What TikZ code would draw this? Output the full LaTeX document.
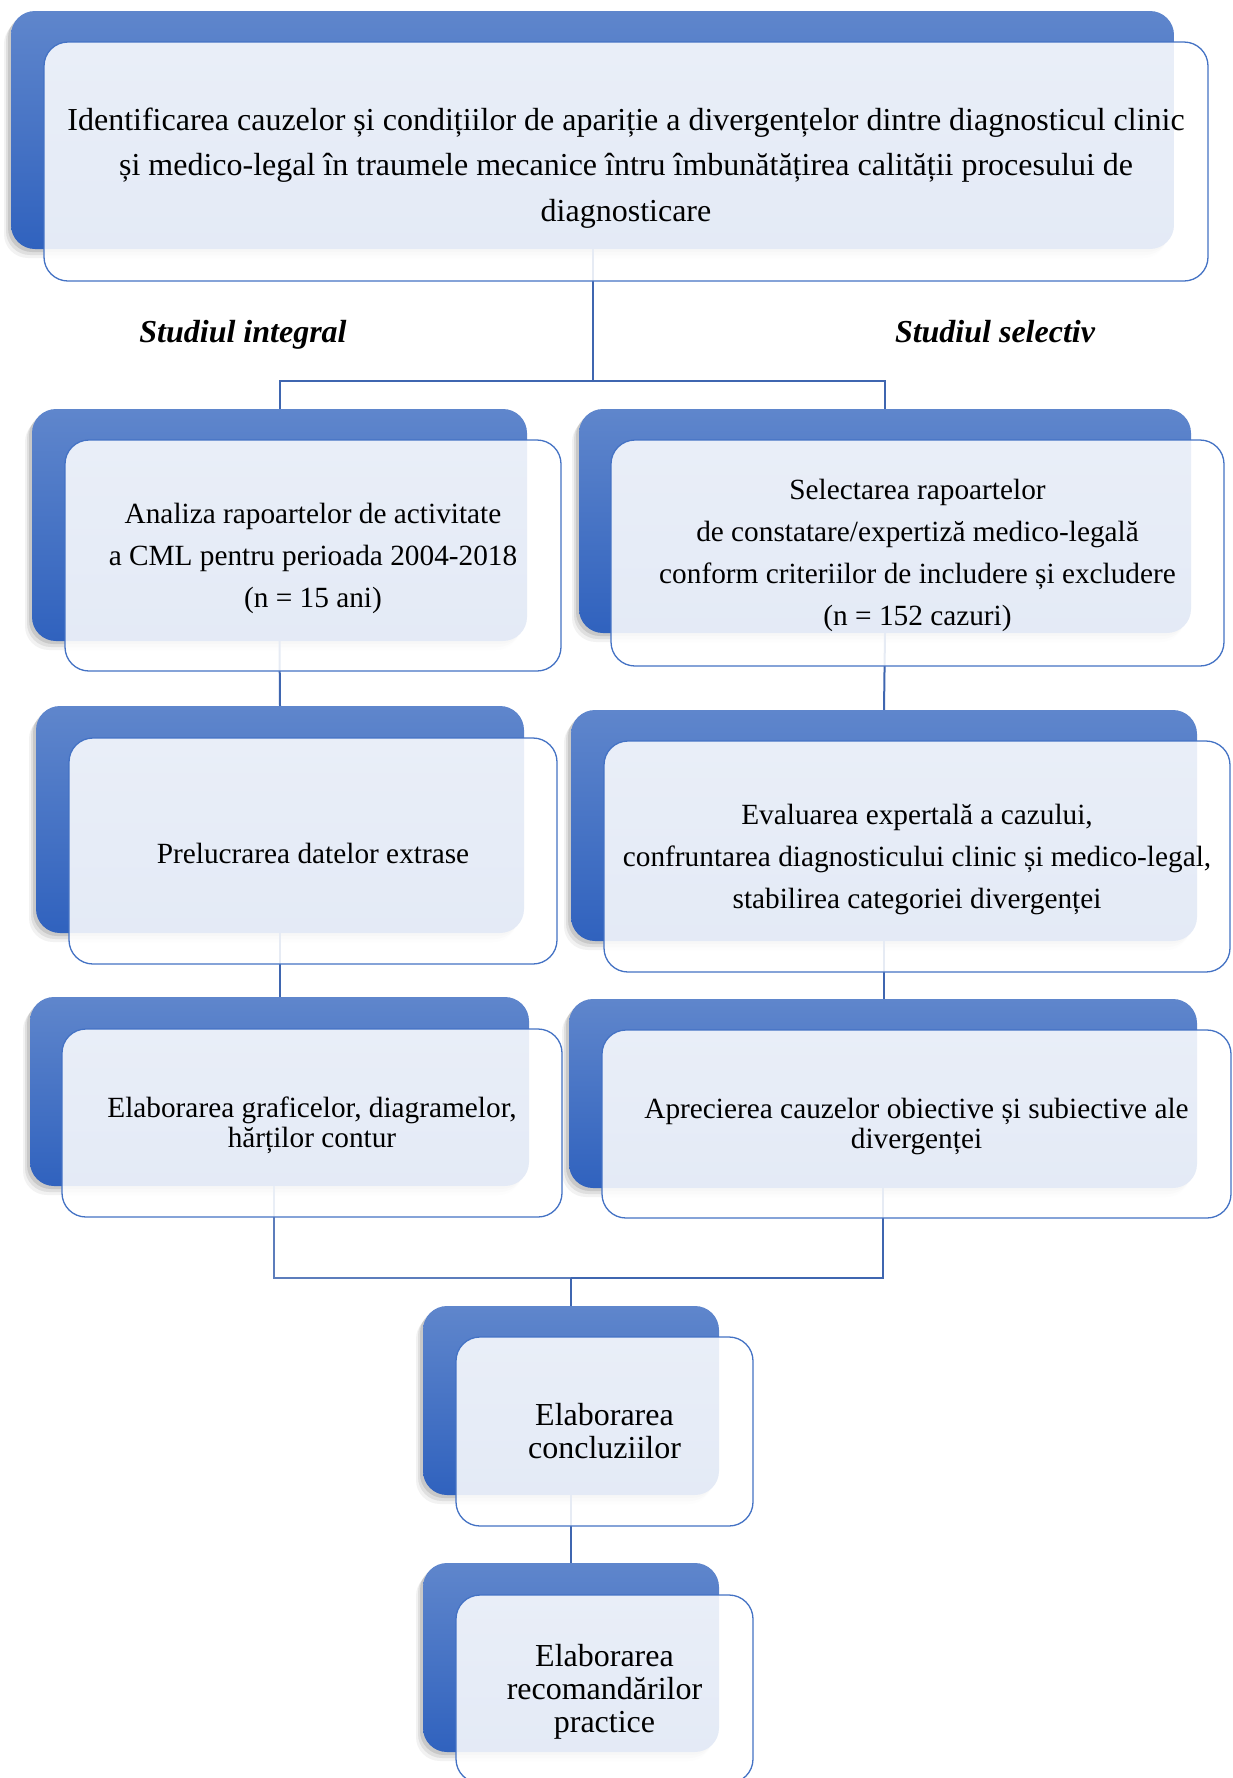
\documentclass[tikz,border=0pt]{standalone}
\usepackage{fontspec}
\setmainfont{Liberation Serif}
\usetikzlibrary{fit}
\definecolor{bluetop}{HTML}{5F86CC}
\definecolor{bluebot}{HTML}{3062BE}
\definecolor{edgeblue}{HTML}{4472C4}
\definecolor{connblue}{HTML}{3F66B0}
\begin{document}
\begin{tikzpicture}[x=1pt,y=-1pt,
  backbox/.style={rounded corners=24pt, inner sep=0pt, top color=bluetop, bottom color=bluebot, draw=none,
    preaction={fill=black, fill opacity=0.05, transform canvas={shift={(-7pt,-9pt)}}},
    preaction={fill=black, fill opacity=0.08, transform canvas={shift={(-5pt,-6pt)}}},
    preaction={fill=black, fill opacity=0.10, transform canvas={shift={(-3pt,-3pt)}}}},
  frontbox/.style={rounded corners=24pt, inner sep=0pt, fill=white, fill opacity=0.87, draw=edgeblue, line width=1.3pt},
  connline/.style={draw=connblue, line width=2pt},
  thinline/.style={draw=connblue!85, line width=1.2pt},
  txt/.style={align=center, inner sep=0pt, yshift=-2.5pt, font=\fontsize{29.3}{42}\selectfont},
  tighttxt/.style={align=center, inner sep=0pt, yshift=-2.5pt, font=\fontsize{29.3}{30}\selectfont},
  bigtxt/.style={align=center, inner sep=0pt, font=\fontsize{32}{33}\selectfont},
  titletxt/.style={align=center, inner sep=0pt, yshift=-6.5pt, font=\fontsize{32}{45.5}\selectfont},
  studylabel/.style={anchor=base, inner sep=0pt, font=\fontsize{32}{36}\selectfont\bfseries\itshape}]
\useasboundingbox (0,0) rectangle (1233,1778);
\clip (0,0) rectangle (1233,1778);
\fill[white] (0,0) rectangle (1233,1778);

% back boxes
\node[backbox, fit={(11,11) (1174,249)}] (tb) {};
\node[backbox, fit={(32,409) (527,641)}] (r1l) {};
\node[backbox, fit={(579,409) (1191,633)}] (r1r) {};
\node[backbox, fit={(36,706) (524,933)}] (r2l) {};
\node[backbox, fit={(571,710) (1197,941)}] (r2r) {};
\node[backbox, fit={(30,997) (529,1186)}] (r3l) {};
\node[backbox, fit={(569,999) (1197,1188)}] (r3r) {};
\node[backbox, fit={(423,1306) (719,1495)}] (b1) {};
\node[backbox, fit={(423,1563) (719,1752)}] (b2) {};

% connectors
\coordinate (split) at (592.5,381);
\coordinate (jl) at (274,1278);
\coordinate (jm) at (571,1278);
\draw[connline] (tb.south) -- (split);
\draw[connline] (split) -| (r1l.north);
\draw[connline] (split) -| (r1r.north);
\draw[connline] (r1l.south) -- (r2l.north);
\draw[connline] (r1r.south) -- (r2r.north);
\draw[connline] (r2l.south) -- (r3l.north -| r2l.south);
\draw[connline] (r2r.south) -- (r3r.north -| r2r.south);
\draw[thinline] (r3l.south -| jl) -- (jl) -- (jm);
\draw[connline] (r3r.south) |- (jm);
\draw[connline] (jm) -- (b1.north);
\draw[connline] (b1.south) -- (b2.north);

% front boxes
\node[frontbox, fit={(44,42) (1208,281)}] (tbf) {};
\node[frontbox, fit={(65,440) (561,671)}] (r1lf) {};
\node[frontbox, fit={(611,440) (1224,666)}] (r1rf) {};
\node[frontbox, fit={(69,738) (557,964)}] (r2lf) {};
\node[frontbox, fit={(604,741) (1230,972)}] (r2rf) {};
\node[frontbox, fit={(62,1029) (562,1217)}] (r3lf) {};
\node[frontbox, fit={(602,1030) (1231,1218)}] (r3rf) {};
\node[frontbox, fit={(456,1337) (753,1526)}] (b1f) {};
\node[frontbox, fit={(456,1595) (753,1783)}] (b2f) {};

% texts
\node[titletxt] (t0) at (tbf.center) {Identificarea cauzelor și condițiilor de apariție a divergențelor dintre diagnosticul clinic\\ și medico-legal în traumele mecanice întru îmbunătățirea calității procesului de\\ diagnosticare};
\node[studylabel] (s1) at (243,342) {Studiul integral};
\node[studylabel] (s2) at (995,342) {Studiul selectiv};
\node[txt] (t1) at (r1lf.center) {Analiza rapoartelor de activitate\\ a CML pentru perioada 2004-2018\\ (n = 15 ani)};
\node[txt] (t2) at (r1rf.center) {Selectarea rapoartelor\\ de constatare/expertiză medico-legală\\ conform criteriilor de includere și excludere\\ (n = 152 cazuri)};
\node[txt] (t3) at (r2lf.center) {Prelucrarea datelor extrase};
\node[txt] (t4) at (r2rf.center) {Evaluarea expertală a cazului,\\ confruntarea diagnosticului clinic și medico-legal,\\ stabilirea categoriei divergenței};
\node[tighttxt] (t5) at (r3lf.center) {Elaborarea graficelor, diagramelor,\\ hărților contur};
\node[tighttxt] (t6) at (r3rf.center) {Aprecierea cauzelor obiective și subiective ale\\ divergenței};
\node[bigtxt] (t7) at (b1f.center) {Elaborarea\\ concluziilor};
\node[bigtxt, yshift=-3pt] (t8) at (b2f.center) {Elaborarea\\ recomandărilor\\ practice};
\end{tikzpicture}
\end{document}
